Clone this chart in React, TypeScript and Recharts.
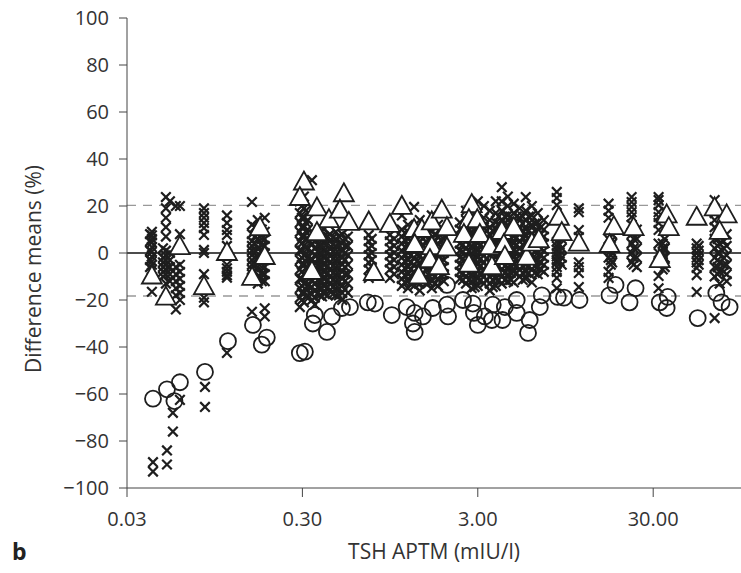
import React from 'react';
import { ReferenceLine, Scatter, ScatterChart, XAxis, YAxis, Label } from 'recharts';

// TSH value (mIU/l) of each column of crosses, and the differences (%) in that column
const crossX = [
  0.0406, 0.0416, 0.0422, 0.0481, 0.05, 0.0507, 0.0527, 0.0548, 0.057, 0.0601,
  0.0824, 0.0835, 0.1114, 0.1547, 0.167, 0.183, 0.29, 0.306, 0.322, 0.34,
  0.353, 0.377, 0.398, 0.43, 0.465, 0.506, 0.545, 0.717, 0.745, 0.946,
  1.0, 1.107, 1.2, 1.3, 1.4, 1.52, 1.64, 1.78, 1.92, 2.37,
  2.57, 2.77, 3.0, 3.25, 3.51, 3.8, 4.11, 4.45, 4.81, 5.2,
  5.63, 6.1, 6.59, 7.14, 8.46, 9.03, 11.3, 16.7, 17.5, 22.6,
  24.2, 32.2, 34.9, 53.1, 67.2, 71.8, 78.7,
];
const crossY = [
  [8, 5, 1, -3, -6],
  [9, 7.5, 6, 4.5, 2.5, 0.5, -1.5, -3.5, -5, -7, -16.5],
  [-89, -93],
  [2, -2, -4, -6, -8, -10],
  [23.8, 19, 15, 11, 7, 1, -1, -3, -5, -7, -9, -13],
  [-84, -90],
  [22, 0, -3, -6, -9, -12],
  [-68, -76],
  [20, -6, -9, -12, -15, -18, -24],
  [20, 8, -5, -8, -11, -14, -17, -20, -62.5],
  [19, 17, 15, 12.8, 10.6, 7.7, 1.3, 0, -9, -19, -21],
  [-57, -65.5],
  [16, 12.8, 9.8, 7.7, 3, -5, -6.5, -8, -9.5, -10.5, -42.5],
  [21.7, 12, 8, 5, 3, 1, -1, -3, -5, -7, -9, -11, -25],
  [14, 10, 6, 2, -2, -6, -10, -13],
  [15, 9, 6, 3, 0, -3, -6, -9, -12, -23.5, -27],
  [26, 22, 17, 13, 9, 5, 1, -3, -7, -11, -15, -19, -23],
  [24, 19, 15, 11, 7, 3, -1, -5, -9, -13, -17, -21],
  [14, 10, 6, 2, -2, -6, -10, -14, -18],
  [31, 4, -3, -12, -20],
  [8, 5, 2, -1, -4, -7, -10, -13, -16, -19, -22],
  [9, 6, 3, 0, -3, -6, -9, -12, -15, -18],
  [10, 7, 4, 1, -2, -5, -8, -11, -14, -17],
  [8, 5, 2, -1, -4, -7, -10, -13, -16],
  [9, 6, 3, 0, -3, -6, -9, -12, -15, -18],
  [8, 4, 1, -2, -5, -8, -11, -14, -17, -20],
  [7, 3, -1, -5, -9, -13, -17],
  [7.7, 5, 2, -1, -4, -7, -10.6],
  [6, 3, 0, -3, -6, -9],
  [7.7, 5, 2, -1, -4, -7, -10.6],
  [6, 3, 0, -3, -6, -9],
  [16, 10, 7, 4, 1, -2, -5, -8, -11, -14],
  [12, 9, 6, 3, 0, -3, -6, -9, -12, -15],
  [19.6, 10, 7, 4, 1, -2, -5, -8, -11, -14],
  [14, 8, 5, 2, -1, -4, -7, -10, -13, -16],
  [11, 8, 5, 2, -1, -4, -7, -10, -13],
  [16, 9, 6, 3, 0, -3, -6, -9, -12, -15],
  [12, 7, 4, 1, -2, -5, -8, -11, -14],
  [10, 6, 3, 0, -3, -6, -9, -12],
  [13, 10, 7, 4, 1, -2, -5, -8, -11],
  [18, 14, 11, 8, 5, 2, -1, -4, -7, -10, -13],
  [16, 12, 9, 6, 3, 0, -3, -6, -9, -12, -15],
  [22, 17, 13, 10, 7, 4, 1, -2, -5, -8, -11, -14],
  [20, 15, 11, 8, 5, 2, -1, -4, -7, -10, -13],
  [18, 14, 11, 8, 5, 2, -1, -4, -7, -10, -13, -16],
  [22, 17, 13, 10, 7, 4, 1, -2, -5, -8, -11, -14],
  [28, 22, 18, 14, 11, 8, 5, 2, -1, -4, -7, -10, -13],
  [24, 20, 16, 12, 9, 6, 3, 0, -3, -6, -9, -12],
  [21, 17, 13, 10, 7, 4, 1, -2, -5, -8, -12.5],
  [19, 15, 11, 8, 5, 2, -1, -4, -7, -10],
  [23.8, 18, 14, 10, 7, 4, 1, -2, -5, -8, -11],
  [20, 16, 12, 8, 5, 2, -1, -4, -7, -12.5],
  [17, 13, 9, 6, 3, 0, -3, -6, -9],
  [14, 10, 7, 4, 1, -2, -5, -8],
  [26, 23.4, 20.4, 4.7, 3, 1.5, 0, -1.5, -3, -4, -6, -8, -10.6, -15],
  [6, 2, -2, -5],
  [19, 17.4, 9.8, 6.8, -4, -6, -8.5, -14.5],
  [21, 18, 15, 6, 2, -2, -8, -10.6],
  [8, 4, 0, -4],
  [23.8, 21.7, 19.6, 17.4, 15.3, 12, 8, 4, 0, -4],
  [10, 6, 2, -2, -6],
  [23.8, 22.5, 20.4, 17.4, 15.3, 12.8, 9.8, 4, 0, -4, -9.8, -15],
  [6, 2, -2, -6],
  [4, 2, 0, -2, -4, -6.4, -9.4, -16.6],
  [22.5, 17, 14, 11, 6, 2, -2, -6, -10, -27.7],
  [4, 0, -4, -8, -13],
  [8, 3, -1, -5, -9, -12],
];

// extra crosses filling the dense (solid black) bands
const denseX = [
  0.161, 0.176, 0.298, 0.314, 0.34, 0.368, 0.388, 0.419, 0.448, 0.484,
  0.524, 1.151, 1.245, 1.35, 1.46, 1.58, 1.71, 1.85, 2.47, 2.67,
  2.88, 3.12, 3.37, 3.65, 3.95, 4.28, 4.63, 5.0, 5.41, 5.86,
  6.34, 6.86, 8.79, 17.2, 23.2, 34.0, 54.5, 69.9, 75.7,
];
const denseY = [
  [11, 7, 4, 1, -2, -5, -8, -11],
  [10, 6, 3, 0, -3, -6, -9, -12],
  [20, 15, 11, 7, 4, 1, -2, -5, -8, -11, -14, -17, -20],
  [18, 13, 9, 6, 2.5, -0.5, -3.5, -6.5, -9.5, -12.5, -15.5, -18.5],
  [6.5, 3.5, 0.5, -2.5, -5.5, -8.5, -11.5, -14.5, -17.5],
  [7, 3.5, 0.5, -2.5, -5.5, -8.5, -11.5, -14.5, -17],
  [6.5, 3, 0, -3, -6, -9, -12, -15, -18.5],
  [7, 4, 0.5, -2.5, -5.5, -8.5, -11.5, -14.5, -18],
  [6.5, 3.5, 0.5, -2.5, -5.5, -8.5, -11.5, -14.5, -17.5],
  [7, 3.5, 0, -3, -6, -9, -12, -15, -18],
  [6, 3, 0, -3, -6, -9, -12, -15.5],
  [8.5, 5.5, 2.5, -0.5, -3.5, -6.5, -9.5, -12.5],
  [8, 5, 2, -1, -4, -7, -10, -13],
  [8.5, 5.5, 2.5, -0.5, -3.5, -6.5, -9.5, -12.5],
  [9, 6, 3, 0, -3, -6, -9, -12],
  [8.5, 5.5, 2.5, -0.5, -3.5, -6.5, -9.5, -12.5],
  [8, 5, 2, -1, -4, -7, -10, -13],
  [8.5, 5.5, 2.5, -0.5, -3.5, -6.5, -9.5],
  [6.5, 3.5, 0.5, -2.5, -5.5, -8.5, -11.5],
  [9.5, 6.5, 3.5, 0.5, -2.5, -5.5, -8.5, -11.5],
  [9.5, 6.5, 3.5, 0.5, -2.5, -5.5, -8.5, -11.5, -14.5],
  [9.5, 6.5, 3.5, 0.5, -2.5, -5.5, -8.5, -11.5],
  [9.5, 6.5, 3.5, 0.5, -2.5, -5.5, -8.5, -11.5],
  [9.5, 6.5, 3.5, 0.5, -2.5, -5.5, -8.5, -11.5, -14.5],
  [15.5, 12.5, 9.5, 6.5, 3.5, 0.5, -2.5, -5.5, -8.5, -11.5],
  [15.5, 12.5, 9.5, 6.5, 3.5, 0.5, -2.5, -5.5, -8.5, -11.5],
  [15.5, 12.5, 9.5, 6.5, 3.5, 0.5, -2.5, -5.5, -8.5, -11.5],
  [15.5, 12.5, 9.5, 6.5, 3.5, 0.5, -2.5, -5.5, -8.5],
  [15.5, 12.5, 9.5, 6.5, 3.5, 0.5, -2.5, -5.5, -8.5, -11.5],
  [15.5, 12.5, 9.5, 6.5, 3.5, 0.5, -2.5, -5.5, -8.5],
  [12.5, 9.5, 6.5, 3.5, 0.5, -2.5, -5.5, -8.5],
  [11, 8, 5, 2, -1, -4, -7],
  [3.5, 1, -1, -3.5],
  [5, 3, 1, -1, -3, -5],
  [10, 6, 2, -2, -5],
  [4, 2, 0, -2, -4, -7],
  [3, 1, -1, -3, -5],
  [6, 3, 0, -3, -6, -9],
  [5, 2, -2, -5, -8],
];

const triX = [
  0.0416, 0.05, 0.06, 0.0824, 0.1114, 0.172, 0.183, 0.155, 0.306, 0.29,
  0.363, 0.425, 0.363, 0.34, 0.517, 0.491, 0.552, 0.717, 0.766, 0.946,
  1.107, 1.3, 1.44, 1.64, 1.87, 2.0, 1.31, 1.64, 2.0, 1.6,
  1.8, 1.38, 2.77, 2.67, 2.98, 2.5, 3.08, 3.51, 4.11, 4.81,
  4.22, 2.67, 3.61, 4.28, 5.7, 6.1, 6.68, 8.69, 9.03, 11.3,
  17.9, 16.9, 23.2, 35.8, 36.8, 32.7, 53.1, 67.2, 78.7, 71.8,
];
const triY = [
  -10, -19, 2.5, -14.5, 0, 10.6, -1.7, -10.6, 30, 23.4,
  19, 14, 8.5, -8, 25, 18, 12.8, 13, -8.5, 12,
  19.6, 9.8, 9.8, 13, 18, 10.6, 3.4, 2.5, 2, -3,
  -6, -10, 20.4, 14, 14, 7.7, 7.7, 2.5, 9, 10.6,
  3.4, -5, -6, -1.7, -2, 4, 5.5, 15, 8.5, 4,
  11, 3.4, 10.6, 16, 10.6, -3, 15, 19, 16, 9,
];

const circX = [
  0.0422, 0.0507, 0.0601, 0.0559, 0.0835, 0.1129, 0.1567, 0.188, 0.176, 0.31,
  0.29, 0.353, 0.414, 0.442, 0.344, 0.504, 0.56, 0.708, 0.777, 0.97,
  1.18, 1.31, 1.28, 1.46, 1.31, 1.66, 2.0, 2.03, 2.0, 2.47,
  2.81, 2.85, 3.29, 3.0, 3.65, 3.61, 4.28, 4.15, 5.0, 5.0,
  5.93, 5.8, 6.77, 6.95, 8.57, 9.3, 11.4, 16.9, 18.3, 22.0,
  23.8, 32.7, 35.8, 36.3, 53.8, 68.7, 73.6, 81.8,
];
const circY = [
  -62, -58, -55, -63, -50.6, -37.5, -30.6, -36, -39, -42,
  -42.6, -26.4, -33.6, -27, -30, -23.4, -23, -21, -21.5, -26.4,
  -23, -25.5, -30, -27, -33.6, -23.4, -22, -27, -13.6, -20,
  -21.5, -25.5, -27, -30.6, -22, -28.5, -23, -28.5, -20, -25.5,
  -28.5, -34, -23, -18, -18.7, -19, -20, -18, -13.6, -21,
  -15, -21, -23.4, -18.7, -27.7, -17, -21, -23,
];

const limitUpper = 20.3;
const limitLower = -18.3;
const xTicks = [0.03, 0.3, 3, 30];
const yTicks = [-100, -80, -60, -40, -20, 0, 20, 40, 60, 80, 100];

const crosses = [
  ...crossX.flatMap((x, i) => crossY[i].map((y) => ({ x, y }))),
  ...denseX.flatMap((x, i) => denseY[i].map((y) => ({ x, y }))),
];
const triangles = triX.map((x, i) => ({ x, y: triY[i] }));
const circles = circX.map((x, i) => ({ x, y: circY[i] }));

const INK = '#1e1e1e';
const FONT = '"Open Sans", "DejaVu Sans", sans-serif';

const CrossMark = ({ cx, cy }: any) => (
  <path d={`M${cx - 4.8},${cy - 4.8}L${cx + 4.8},${cy + 4.8}M${cx - 4.8},${cy + 4.8}L${cx + 4.8},${cy - 4.8}`} stroke={INK} strokeWidth={2.2} fill="none" />
);

const TriangleMark = ({ cx, cy }: any) => (
  <path d={`M${cx},${cy - 11}L${cx + 10},${cy + 7}L${cx - 10},${cy + 7}Z`} stroke={INK} strokeWidth={1.8} fill="#fff" />
);

const CircleMark = ({ cx, cy }: any) => <circle cx={cx} cy={cy} r={8} stroke={INK} strokeWidth={1.8} fill="none" />;

const YTitle = () => (
  <text x={33} y={269} transform="rotate(-90, 33, 269)" textAnchor="middle" dominantBaseline="central" fill="#333" fontSize={21} fontFamily={FONT}>
    Difference means (%)
  </text>
);

const XTitle = () => (
  <text x={434} y={551} textAnchor="middle" dominantBaseline="central" fill="#333" fontSize={21} fontFamily={FONT}>
    TSH APTM (mIU/l)
  </text>
);

const tickStyle = { fill: '#333', fontSize: 20, fontFamily: FONT };

export default function App() {
  return (
    <div style={{ position: 'absolute', left: 0, top: 0, width: 741, height: 573, background: '#fff' }}>
      <ScatterChart width={741} height={573} margin={{ top: 18, right: 0, bottom: 10, left: 0 }}>
        <XAxis
          dataKey="x"
          type="number"
          scale="log"
          domain={[0.03, 95]}
          allowDataOverflow
          ticks={xTicks}
          tickFormatter={(v: number) => v.toFixed(2)}
          height={75}
          stroke="#444"
          tickSize={9}
          tickMargin={15}
          tick={tickStyle}
        >
          <Label content={<XTitle />} />
        </XAxis>
        <YAxis
          dataKey="y"
          type="number"
          domain={[-100, 100]}
          ticks={yTicks}
          tickFormatter={(v: number) => (v < 0 ? `\u2212${Math.abs(v)}` : `${v}`)}
          width={127}
          stroke="#444"
          tickSize={8}
          tickMargin={10}
          tick={tickStyle}
        >
          <Label content={<YTitle />} />
        </YAxis>
        <ReferenceLine y={limitUpper} stroke="#999" strokeDasharray="9 7" strokeWidth={1.3} />
        <ReferenceLine y={limitLower} stroke="#999" strokeDasharray="9 7" strokeWidth={1.3} />
        <ReferenceLine y={0} stroke="#111" strokeWidth={1.3} />
        <Scatter data={crosses} shape={<CrossMark />} isAnimationActive={false} />
        <Scatter data={circles} shape={<CircleMark />} isAnimationActive={false} />
        <Scatter data={triangles} shape={<TriangleMark />} isAnimationActive={false} />
      </ScatterChart>
      <div style={{ position: 'absolute', left: 12, top: 535, fontFamily: FONT, fontWeight: 700, fontSize: 23, color: '#222' }}>b</div>
    </div>
  );
}
